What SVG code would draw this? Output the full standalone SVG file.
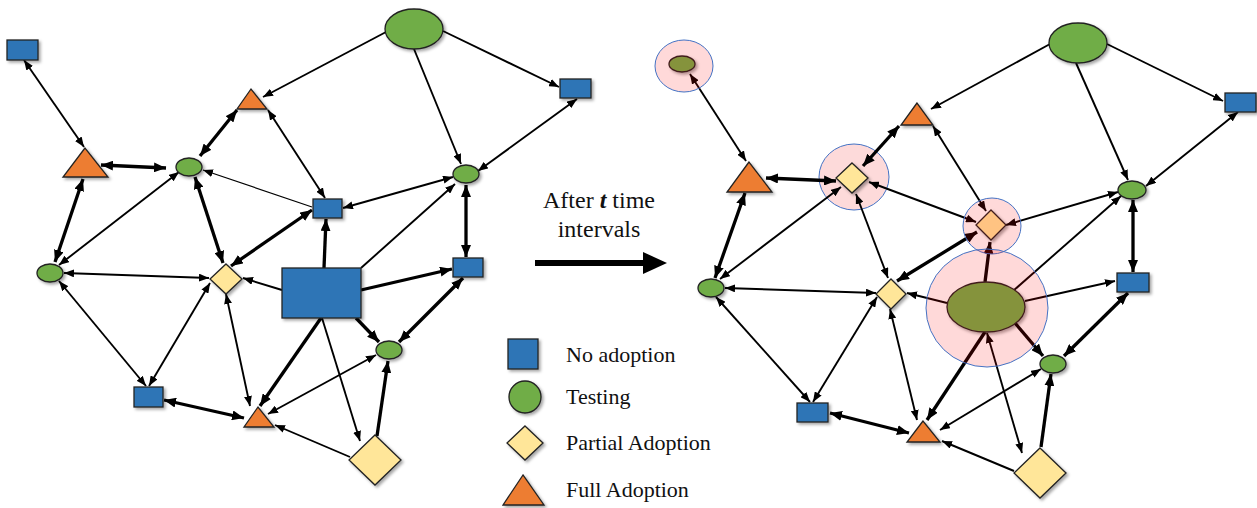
<svg xmlns="http://www.w3.org/2000/svg" width="1257" height="508" viewBox="0 0 1257 508">
  <defs>
    <style>
      .e path { fill: none; stroke: #000; stroke-width: 1.9; }
      .e path.k { stroke-width: 3.3; }
      .e path.x { stroke-width: 1.2; }
      .nd { stroke: #222; stroke-width: 1.3; filter: url(#sh); }
      .blue { fill: #2E75B6; }
      .green { fill: #70AD47; }
      .orange { fill: #ED7D31; }
      .yellow { fill: #FFE699; }
      .halo { fill: #FF0000; fill-opacity: 0.15; stroke: #4472C4; stroke-width: 1; }
      .lbl { font-family: "Liberation Serif", "Times New Roman", serif; fill: #111; }
    </style>
    <filter id="sh" x="-30%" y="-30%" width="160%" height="160%">
      <feDropShadow dx="2" dy="2" stdDeviation="1.5" flood-color="#000" flood-opacity="0.35"/>
    </filter>
    <marker id="ah" viewBox="0 0 10 8" refX="10" refY="4" markerWidth="10" markerHeight="8" markerUnits="userSpaceOnUse" orient="auto-start-reverse">
      <path d="M0,0 L10,4 L0,8 z" fill="#000"/>
    </marker>
    <marker id="AH" viewBox="0 0 12 10" refX="12" refY="5" markerWidth="12" markerHeight="10" markerUnits="userSpaceOnUse" orient="auto-start-reverse">
      <path d="M0,0 L12,5 L0,10 z" fill="#000"/>
    </marker>
  </defs>

  <rect width="1257" height="508" fill="#fff"/>

  <!-- halo behind the partial-adoption node (opaque, edges drawn over it) -->
  <ellipse id="halo-r6" cx="854" cy="177" rx="35" ry="33" fill="#FDDADA" stroke="#4472C4" stroke-width="1"/>

  <!-- connectors: network before -->
  <g id="edges-left" class="e">
    <path d="M24,60 L84,147" marker-start="url(#ah)" marker-end="url(#ah)"/>
    <path d="M386,32 L263,97" marker-end="url(#ah)"/>
    <path class="k" d="M101,165 L166,168" marker-start="url(#AH)" marker-end="url(#AH)"/>
    <path class="k" d="M237,110 L200,156" marker-start="url(#AH)" marker-end="url(#AH)"/>
    <path class="x" d="M312,207 L203,170" marker-end="url(#ah)"/>
    <path d="M268,110 L325,198" marker-start="url(#ah)" marker-end="url(#ah)"/>
    <path d="M343,208 L453,177" marker-start="url(#ah)" marker-end="url(#ah)"/>
    <path d="M414,49 L461,164" marker-end="url(#ah)"/>
    <path d="M443,31 L559,87" marker-end="url(#ah)"/>
    <path d="M577,99 L478,171" marker-start="url(#ah)" marker-end="url(#ah)"/>
    <path class="k" d="M466,185 L466,257" marker-start="url(#AH)" marker-end="url(#AH)"/>
    <path class="k" d="M83,179 L55,262" marker-start="url(#AH)" marker-end="url(#AH)"/>
    <path d="M59,265 L179,172" marker-start="url(#ah)" marker-end="url(#ah)"/>
    <path class="k" d="M195,177 L223,263" marker-start="url(#AH)" marker-end="url(#AH)"/>
    <path class="k" d="M312,210 L231,266" marker-start="url(#AH)" marker-end="url(#AH)"/>
    <path d="M64,273 L209,278" marker-start="url(#ah)" marker-end="url(#ah)"/>
    <path d="M282,290 L243,278" marker-end="url(#ah)"/>
    <path class="k" d="M324,268 L326,219" marker-end="url(#AH)"/>
    <path class="k" d="M361,290 L452,269" marker-end="url(#AH)"/>
    <path class="k" d="M356,318 L379,342" marker-end="url(#AH)"/>
    <path class="k" d="M463,278 L399,342" marker-start="url(#AH)" marker-end="url(#AH)"/>
    <path d="M59,281 L146,386" marker-start="url(#ah)" marker-end="url(#ah)"/>
    <path d="M210,283 L149,386" marker-start="url(#ah)" marker-end="url(#ah)"/>
    <path d="M226,294 L250,406" marker-start="url(#ah)" marker-end="url(#ah)"/>
    <path class="k" d="M164,400 L244,418" marker-start="url(#AH)" marker-end="url(#AH)"/>
    <path class="k" d="M321,318 L260,406" marker-end="url(#AH)"/>
    <path d="M376,355 L268,414" marker-start="url(#ah)" marker-end="url(#ah)"/>
    <path d="M322,318 L360,441" marker-end="url(#ah)"/>
    <path d="M350,457 L275,425" marker-end="url(#ah)"/>
    <path class="k" d="M377,436 L388,361" marker-end="url(#AH)"/>
    <path d="M361,268 L455,184" marker-end="url(#ah)"/>
  </g>

  <!-- connectors: network after -->
  <g id="edges-right" class="e">
    <path d="M690,74 L746,161" marker-start="url(#ah)" marker-end="url(#ah)"/>
    <path d="M1050,44 L931,109" marker-end="url(#ah)"/>
    <path class="k" d="M766,178 L836,181" marker-start="url(#AH)" marker-end="url(#AH)"/>
    <path class="k" d="M899,126 L863,166" marker-start="url(#AH)" marker-end="url(#AH)"/>
    <path d="M869,182 L976,222" marker-start="url(#ah)" marker-end="url(#ah)"/>
    <path d="M933,126 L986,211" marker-start="url(#ah)" marker-end="url(#ah)"/>
    <path d="M1118,192 L1006,225" marker-start="url(#ah)" marker-end="url(#ah)"/>
    <path d="M1076,63 L1128,180" marker-end="url(#ah)"/>
    <path d="M1107,44 L1223,101" marker-end="url(#ah)"/>
    <path d="M1238,112 L1146,186" marker-start="url(#ah)" marker-end="url(#ah)"/>
    <path class="k" d="M1133,200 L1133,272" marker-start="url(#AH)" marker-end="url(#AH)"/>
    <path class="k" d="M745,193 L715,278" marker-start="url(#AH)" marker-end="url(#AH)"/>
    <path d="M720,279 L841,187" marker-start="url(#ah)" marker-end="url(#ah)"/>
    <path d="M856,194 L888,278" marker-start="url(#ah)" marker-end="url(#ah)"/>
    <path class="k" d="M977,232 L897,281" marker-start="url(#AH)" marker-end="url(#AH)"/>
    <path d="M725,288 L876,293" marker-start="url(#ah)" marker-end="url(#ah)"/>
    <path d="M947,303 L907,293" marker-end="url(#ah)"/>
    <path class="k" d="M985,282 L990,242" marker-end="url(#AH)"/>
    <path d="M1025,301 L1115,281" marker-end="url(#ah)"/>
    <path class="k" d="M1015,323 L1043,356" marker-end="url(#AH)"/>
    <path class="k" d="M1128,293 L1064,356" marker-start="url(#AH)" marker-end="url(#AH)"/>
    <path d="M716,297 L810,402" marker-start="url(#ah)" marker-end="url(#ah)"/>
    <path d="M877,297 L813,402" marker-start="url(#ah)" marker-end="url(#ah)"/>
    <path d="M890,309 L917,420" marker-start="url(#ah)" marker-end="url(#ah)"/>
    <path class="k" d="M830,413 L909,433" marker-start="url(#AH)" marker-end="url(#AH)"/>
    <path class="k" d="M985,332 L927,420" marker-end="url(#AH)"/>
    <path d="M1041,369 L940,430" marker-start="url(#ah)" marker-end="url(#ah)"/>
    <path d="M987,333 L1022,453" marker-start="url(#ah)" marker-end="url(#ah)"/>
    <path d="M1014,471 L942,441" marker-end="url(#ah)"/>
    <path class="k" d="M1041,447 L1051,374" marker-end="url(#AH)"/>
    <path d="M1013,291 L1121,196" marker-end="url(#ah)"/>
  </g>

  <!-- transition arrow -->
  <g id="transition">
    <text class="lbl" x="599" y="208" font-size="24" text-anchor="middle">After <tspan font-weight="bold" font-style="italic">t</tspan> time</text>
    <text class="lbl" x="599" y="237" font-size="24" text-anchor="middle">intervals</text>
    <path d="M535,263 L645,263" stroke="#000" stroke-width="6"/>
    <path d="M643,252 L667,263 L643,274 z" fill="#000"/>
  </g>

  <!-- network before -->
  <g id="l-n1"><rect class="nd blue" x="7" y="40" width="31" height="20"/></g>
  <g id="l-n2"><polygon class="nd orange" points="85,148 63,177 108,177"/></g>
  <g id="l-n3"><polygon class="nd orange" points="251,89 237,109 267,109"/></g>
  <g id="l-n4"><ellipse class="nd green" cx="414" cy="29" rx="29" ry="20"/></g>
  <g id="l-n5"><rect class="nd blue" x="560" y="79" width="31" height="19"/></g>
  <g id="l-n6"><ellipse class="nd green" cx="189" cy="167" rx="13" ry="9"/></g>
  <g id="l-n7"><rect class="nd blue" x="313" y="199" width="29" height="19"/></g>
  <g id="l-n8"><ellipse class="nd green" cx="466" cy="174" rx="13" ry="9"/></g>
  <g id="l-n9"><ellipse class="nd green" cx="50" cy="273" rx="13" ry="9"/></g>
  <g id="l-n10"><polygon class="nd yellow" points="226,264 242,279 226,294 210,279"/></g>
  <g id="l-n11"><rect class="nd blue" x="282" y="268" width="79" height="50"/></g>
  <g id="l-n12"><rect class="nd blue" x="453" y="258" width="30" height="19"/></g>
  <g id="l-n13"><ellipse class="nd green" cx="389" cy="350" rx="13" ry="9"/></g>
  <g id="l-n14"><rect class="nd blue" x="134" y="387" width="29" height="20"/></g>
  <g id="l-n15"><polygon class="nd orange" points="258,407 244,427 274,427"/></g>
  <g id="l-n16"><polygon class="nd yellow" points="375,435 401,460 375,485 349,460"/></g>

  <!-- network after: nodes seen through their halos -->
  <g id="r-n1"><ellipse class="nd green" cx="682" cy="64" rx="13" ry="8"/></g>
  <g id="r-n7"><polygon class="nd yellow" points="991,210 1006,225 991,240 976,225"/></g>
  <g id="r-n11"><ellipse class="nd green" cx="986" cy="307" rx="39" ry="25"/></g>
  <g id="halos">
    <ellipse class="halo" cx="684" cy="66" rx="29" ry="26"/>
    <ellipse class="halo" cx="992" cy="226" rx="29" ry="28"/>
    <ellipse class="halo" cx="987" cy="308" rx="61" ry="59"/>
  </g>

  <!-- network after -->
  <g id="r-n2"><polygon class="nd orange" points="749,162 727,192 772,192"/></g>
  <g id="r-n3"><polygon class="nd orange" points="917,103 901,125 933,125"/></g>
  <g id="r-n4"><ellipse class="nd green" cx="1078" cy="43" rx="29" ry="20"/></g>
  <g id="r-n5"><rect class="nd blue" x="1225" y="93" width="31" height="19"/></g>
  <g id="r-n6"><polygon class="nd yellow" points="852,163 868,178 852,193 836,178"/></g>
  <g id="r-n8"><ellipse class="nd green" cx="1132" cy="190" rx="14" ry="9"/></g>
  <g id="r-n9"><ellipse class="nd green" cx="711" cy="288" rx="13" ry="9"/></g>
  <g id="r-n10"><polygon class="nd yellow" points="891,279 906,294 891,309 876,294"/></g>
  <g id="r-n12"><rect class="nd blue" x="1117" y="273" width="32" height="19"/></g>
  <g id="r-n13"><ellipse class="nd green" cx="1053" cy="364" rx="13" ry="9"/></g>
  <g id="r-n14"><rect class="nd blue" x="797" y="403" width="31" height="19"/></g>
  <g id="r-n15"><polygon class="nd orange" points="923,421 907,442 940,442"/></g>
  <g id="r-n16"><polygon class="nd yellow" points="1040,448 1066,473 1040,498 1014,473"/></g>

  <!-- legend -->
  <g id="legend">
    <rect class="nd blue" x="508" y="339" width="30" height="30"/>
    <circle class="nd green" cx="525" cy="397" r="16"/>
    <polygon class="nd yellow" points="525,426 543,443 525,460 507,443"/>
    <polygon class="nd orange" points="523,475 503,505 544,505"/>
    <text class="lbl" x="566" y="362" font-size="22">No adoption</text>
    <text class="lbl" x="566" y="404" font-size="22">Testing</text>
    <text class="lbl" x="566" y="450" font-size="22">Partial Adoption</text>
    <text class="lbl" x="566" y="497" font-size="22">Full Adoption</text>
  </g>
</svg>
